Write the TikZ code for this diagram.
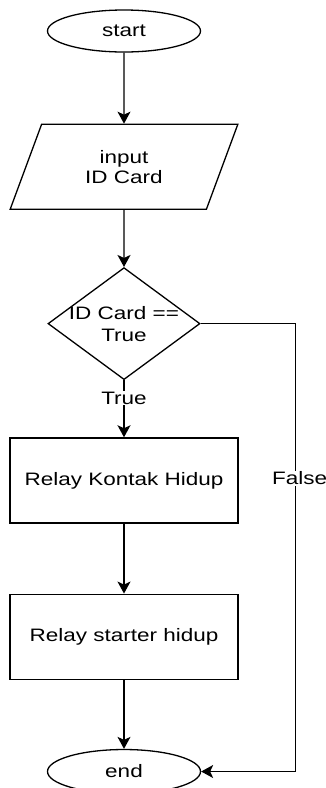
\documentclass[tikz,border=0pt]{standalone}
\usepackage{fontspec}
\setmainfont{Liberation Sans}[FakeStretch=1.25]
\usetikzlibrary{positioning,shapes.geometric,arrows.meta}

\begin{document}
\begin{tikzpicture}[x=1pt,y=-1pt,font=\fontsize{18}{20}\selectfont,line width=1.3pt,
  startstop/.style={draw,ellipse,minimum width=153pt,minimum height=42pt,inner sep=0pt},
  io/.style={draw,trapezium,trapezium left angle=66,trapezium right angle=114,trapezium stretches=true,minimum width=228pt,minimum height=85pt,inner sep=0pt,align=center},
  decision/.style={draw,diamond,minimum width=152pt,minimum height=112pt,inner sep=0pt},
  process/.style={draw,rectangle,minimum width=228pt,minimum height=85pt,inner sep=0pt},
  flow/.style={-{Stealth[length=12pt,width=13pt,inset=3pt]}},
  lbl/.style={fill=white,inner sep=1pt}]
  \useasboundingbox (0,0) rectangle (326,788);
  \node[startstop] (start) at (124,31) {start};
  \node[io,below=71pt of start] (inp) {input\\ID Card};
  \node[decision,below=57pt of inp,label={[align=center,font=\fontsize{18}{22}\selectfont]center:ID Card ==\\True}] (dec) {};
  \node[process,below=57pt of dec] (relay1) {Relay Kontak Hidup};
  \node[process,below=70pt of relay1] (relay2) {Relay starter hidup};
  \node[startstop,below=69pt of relay2,minimum height=44pt] (stop) {end};
  \draw[flow] (start) -- (inp);
  \draw[flow] (inp) -- (dec);
  \draw[flow] (dec) -- node[lbl,pos=0.31] {True} (relay1);
  \draw[flow] (relay1) -- (relay2);
  \draw[flow] (relay2) -- (stop);
  \draw[flow] (dec.east) -- ++(95,0) coordinate (fturn) -- node[lbl,pos=0.345,xshift=4pt] {False} (fturn |- stop) -- (stop.east);
\end{tikzpicture}
\end{document}
